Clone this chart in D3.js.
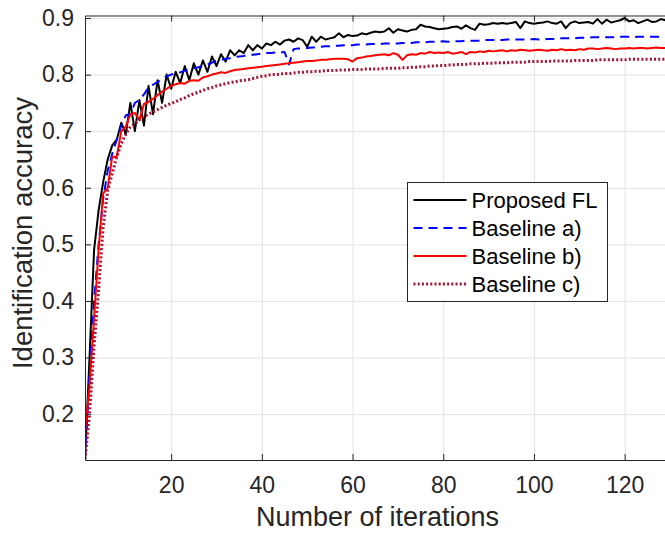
<!DOCTYPE html>
<html>
<head>
<meta charset="utf-8">
<script src="https://cdn.jsdelivr.net/npm/d3@7"></script>
<style>
  body { margin: 0; background: #fff; }
  svg { font-family: "Liberation Sans", Arial, Helvetica, sans-serif; }
  .axis text { fill: #262626; font-size: 23px; }
  .axis path, .axis line { stroke: #262626; }
  .grid line { stroke: #e3e3e3; }
  .grid path { display: none; }
</style>
</head>
<body>
<svg id="chart" width="665" height="533"></svg>
<script>
var iterations = d3.range(1, 131);

var proposedFL = [
  0.12, 0.30, 0.49, 0.56, 0.61, 0.65, 0.675, 0.685, 0.715, 0.695,
  0.75, 0.70, 0.755, 0.71, 0.78, 0.73, 0.79, 0.75, 0.80, 0.775,
  0.805, 0.785, 0.815, 0.79, 0.82, 0.80, 0.825, 0.805, 0.832, 0.815,
  0.836, 0.823, 0.843, 0.834, 0.843, 0.838, 0.852, 0.843, 0.852, 0.846,
  0.855, 0.852, 0.858, 0.853, 0.86, 0.862, 0.858, 0.864, 0.861, 0.849,
  0.867, 0.858, 0.867, 0.862, 0.864, 0.866, 0.873, 0.866, 0.87, 0.868,
  0.869, 0.873, 0.871, 0.874, 0.876, 0.875, 0.876, 0.882, 0.874, 0.880,
  0.878, 0.876, 0.879, 0.880, 0.888, 0.885, 0.884, 0.882, 0.880, 0.881,
  0.882, 0.884, 0.885, 0.881, 0.887, 0.882, 0.879, 0.890, 0.888, 0.889,
  0.891, 0.890, 0.891, 0.890, 0.891, 0.893, 0.882, 0.894, 0.891, 0.890,
  0.891, 0.892, 0.894, 0.891, 0.890, 0.894, 0.882, 0.891, 0.894, 0.891,
  0.892, 0.893, 0.890, 0.898, 0.890, 0.897, 0.892, 0.894, 0.896, 0.900,
  0.894, 0.896, 0.891, 0.894, 0.897, 0.893, 0.894, 0.898, 0.896, 0.895
];

var baselineA = [
  0.12, 0.27, 0.40, 0.50, 0.58, 0.63, 0.66, 0.685, 0.71, 0.728,
  0.73, 0.75, 0.755, 0.765, 0.777, 0.782, 0.787, 0.792, 0.797, 0.80,
  0.802, 0.804, 0.807, 0.809, 0.811, 0.813, 0.815, 0.818, 0.821, 0.825,
  0.826, 0.828, 0.829, 0.831, 0.832, 0.833, 0.835, 0.835, 0.836, 0.837,
  0.838, 0.838, 0.839, 0.839, 0.840, 0.818, 0.845, 0.846, 0.846, 0.847,
  0.848, 0.848, 0.849, 0.850, 0.850, 0.851, 0.851, 0.852, 0.852, 0.852,
  0.853, 0.853, 0.853, 0.854, 0.854, 0.854, 0.855, 0.855, 0.855, 0.855,
  0.856, 0.856, 0.856, 0.857, 0.857, 0.857, 0.858, 0.858, 0.858, 0.859,
  0.858, 0.858, 0.859, 0.859, 0.860, 0.860, 0.860, 0.860, 0.861, 0.861,
  0.861, 0.861, 0.861, 0.862, 0.862, 0.862, 0.862, 0.862, 0.862, 0.863,
  0.862, 0.862, 0.863, 0.863, 0.863, 0.864, 0.864, 0.864, 0.864, 0.865,
  0.865, 0.865, 0.866, 0.866, 0.866, 0.866, 0.866, 0.866, 0.867, 0.867,
  0.867, 0.866, 0.867, 0.867, 0.867, 0.867, 0.867, 0.867, 0.867, 0.867
];

var baselineB = [
  0.17, 0.25, 0.37, 0.49, 0.59, 0.60, 0.655, 0.655, 0.70, 0.708,
  0.73, 0.732, 0.72, 0.748, 0.752, 0.757, 0.764, 0.77, 0.775, 0.78,
  0.783, 0.785, 0.784, 0.789, 0.79, 0.789, 0.795, 0.797, 0.80, 0.802,
  0.804, 0.803, 0.806, 0.808, 0.809, 0.81, 0.811, 0.812, 0.813, 0.814,
  0.815, 0.816, 0.817, 0.818, 0.819, 0.82, 0.821, 0.822, 0.823, 0.824,
  0.824, 0.825, 0.826, 0.826, 0.827, 0.828, 0.828, 0.828, 0.827, 0.823,
  0.829, 0.830, 0.832, 0.833, 0.834, 0.835, 0.836, 0.834, 0.838, 0.835,
  0.826, 0.834, 0.836, 0.835, 0.838, 0.837, 0.840, 0.838, 0.839, 0.838,
  0.840, 0.837, 0.838, 0.840, 0.836, 0.840, 0.839, 0.841, 0.840, 0.842,
  0.841, 0.842, 0.843, 0.841, 0.843, 0.842, 0.844, 0.843, 0.842, 0.843,
  0.844, 0.843, 0.842, 0.844, 0.843, 0.845, 0.843, 0.844, 0.843, 0.845,
  0.844, 0.846, 0.846, 0.845, 0.846, 0.847, 0.846, 0.845, 0.846, 0.846,
  0.847, 0.846, 0.847, 0.847, 0.846, 0.847, 0.848, 0.847, 0.847, 0.847
];

var baselineC = [
  0.12, 0.20, 0.32, 0.42, 0.53, 0.595, 0.625, 0.655, 0.678, 0.695,
  0.708, 0.713, 0.72, 0.725, 0.73, 0.734, 0.738, 0.742, 0.746, 0.749,
  0.752, 0.756, 0.759, 0.763, 0.766, 0.769, 0.772, 0.775, 0.777, 0.78,
  0.782, 0.784, 0.786, 0.787, 0.789, 0.79, 0.791, 0.793, 0.795, 0.797,
  0.798, 0.80, 0.80, 0.801, 0.802, 0.802, 0.803, 0.804, 0.804, 0.805,
  0.805, 0.806, 0.806, 0.807, 0.807, 0.807, 0.808, 0.808, 0.808, 0.809,
  0.809, 0.809, 0.810, 0.810, 0.810, 0.810, 0.811, 0.811, 0.811, 0.811,
  0.812, 0.812, 0.813, 0.813, 0.814, 0.814, 0.815, 0.815, 0.816, 0.816,
  0.817, 0.817, 0.818, 0.818, 0.818, 0.819, 0.819, 0.819, 0.820, 0.820,
  0.820, 0.821, 0.821, 0.821, 0.822, 0.822, 0.822, 0.822, 0.823, 0.823,
  0.823, 0.823, 0.823, 0.824, 0.824, 0.824, 0.824, 0.824, 0.825, 0.825,
  0.825, 0.825, 0.825, 0.826, 0.826, 0.826, 0.826, 0.826, 0.826, 0.826,
  0.827, 0.827, 0.827, 0.827, 0.827, 0.827, 0.827, 0.827, 0.827, 0.827
];

var seriesNames = ["Proposed FL", "Baseline a)", "Baseline b)", "Baseline c)"];
var xTicks = [20, 40, 60, 80, 100, 120];
var yTicks = [0.2, 0.3, 0.4, 0.5, 0.6, 0.7, 0.8, 0.9];

var styles = [
  {color: "#000000", width: 2, dash: null},
  {color: "#0000ff", width: 2, dash: "9,6"},
  {color: "#ff0000", width: 2, dash: null},
  {color: "#a2142f", width: 3, dash: "2,2.2"}
];

var margin = {top: 15.5, left: 85, bottom: 460, right: 670};

var x = d3.scaleLinear().domain([1, 130]).range([margin.left, margin.right]);
var y = d3.scaleLinear().domain([0.119, 0.9044]).range([margin.bottom, margin.top]);

var svg = d3.select("#chart");

svg.append("defs").append("clipPath")
    .attr("id", "plotclip")
  .append("rect")
    .attr("x", margin.left)
    .attr("y", margin.top)
    .attr("width", margin.right - margin.left)
    .attr("height", margin.bottom - margin.top);

// grid
svg.append("g")
    .attr("class", "grid")
    .attr("transform", "translate(0," + margin.bottom + ")")
    .call(d3.axisBottom(x).tickValues(xTicks).tickSize(-(margin.bottom - margin.top)).tickFormat(""));

svg.append("g")
    .attr("class", "grid")
    .attr("transform", "translate(" + margin.left + ",0)")
    .call(d3.axisLeft(y).tickValues(yTicks).tickSize(-(margin.right - margin.left)).tickFormat(""));

// lines
var line = d3.line()
    .x(function(d, i) { return x(iterations[i]); })
    .y(function(d) { return y(d); });

var allSeries = [proposedFL, baselineA, baselineB, baselineC];

var lines = svg.append("g").attr("clip-path", "url(#plotclip)");
allSeries.forEach(function(s, i) {
  lines.append("path")
      .datum(s)
      .attr("fill", "none")
      .attr("stroke", styles[i].color)
      .attr("stroke-width", styles[i].width)
      .attr("stroke-dasharray", styles[i].dash)
      .attr("stroke-linejoin", "round")
      .attr("d", line);
});

// axes with inward ticks
svg.append("g")
    .attr("class", "axis")
    .attr("transform", "translate(0," + margin.bottom + ")")
    .call(d3.axisBottom(x).tickValues(xTicks).tickSize(-6).tickPadding(16.5).tickSizeOuter(0));

svg.append("g")
    .attr("class", "axis")
    .attr("transform", "translate(0," + margin.top + ")")
    .call(d3.axisTop(x).tickValues(xTicks).tickSize(-6).tickFormat("").tickSizeOuter(0));

svg.append("g")
    .attr("class", "axis")
    .attr("transform", "translate(" + margin.left + ",0)")
    .call(d3.axisLeft(y).tickValues(yTicks).tickSize(-6).tickPadding(11).tickSizeOuter(0).tickFormat(d3.format(".1f")));

svg.selectAll(".axis text").style("font-size", "23px");

// axis labels
svg.append("text")
    .attr("x", (margin.left + margin.right) / 2)
    .attr("y", 526)
    .style("text-anchor", "middle")
    .style("font-size", "27px")
    .style("fill", "#262626")
    .text("Number of iterations");

svg.append("text")
    .attr("transform", "translate(31.5,233) rotate(-90)")
    .style("text-anchor", "middle")
    .style("font-size", "27.5px")
    .style("fill", "#262626")
    .text("Identification accuracy");

// legend
var legend = svg.append("g").attr("transform", "translate(407.5,182.5)");

legend.append("rect")
    .attr("width", 200)
    .attr("height", 119)
    .attr("fill", "#fff")
    .attr("stroke", "#262626")
    .attr("stroke-width", 1);

seriesNames.forEach(function(name, i) {
  var ly = 17.5 + i * 28;
  legend.append("line")
      .attr("x1", 6)
      .attr("x2", 59)
      .attr("y1", ly)
      .attr("y2", ly)
      .attr("stroke", styles[i].color)
      .attr("stroke-width", styles[i].width)
      .attr("stroke-dasharray", styles[i].dash);
  legend.append("text")
      .attr("x", 64)
      .attr("y", ly + 7.5)
      .style("font-size", "22px")
      .style("fill", "#000")
      .text(name);
});
</script>
</body>
</html>
